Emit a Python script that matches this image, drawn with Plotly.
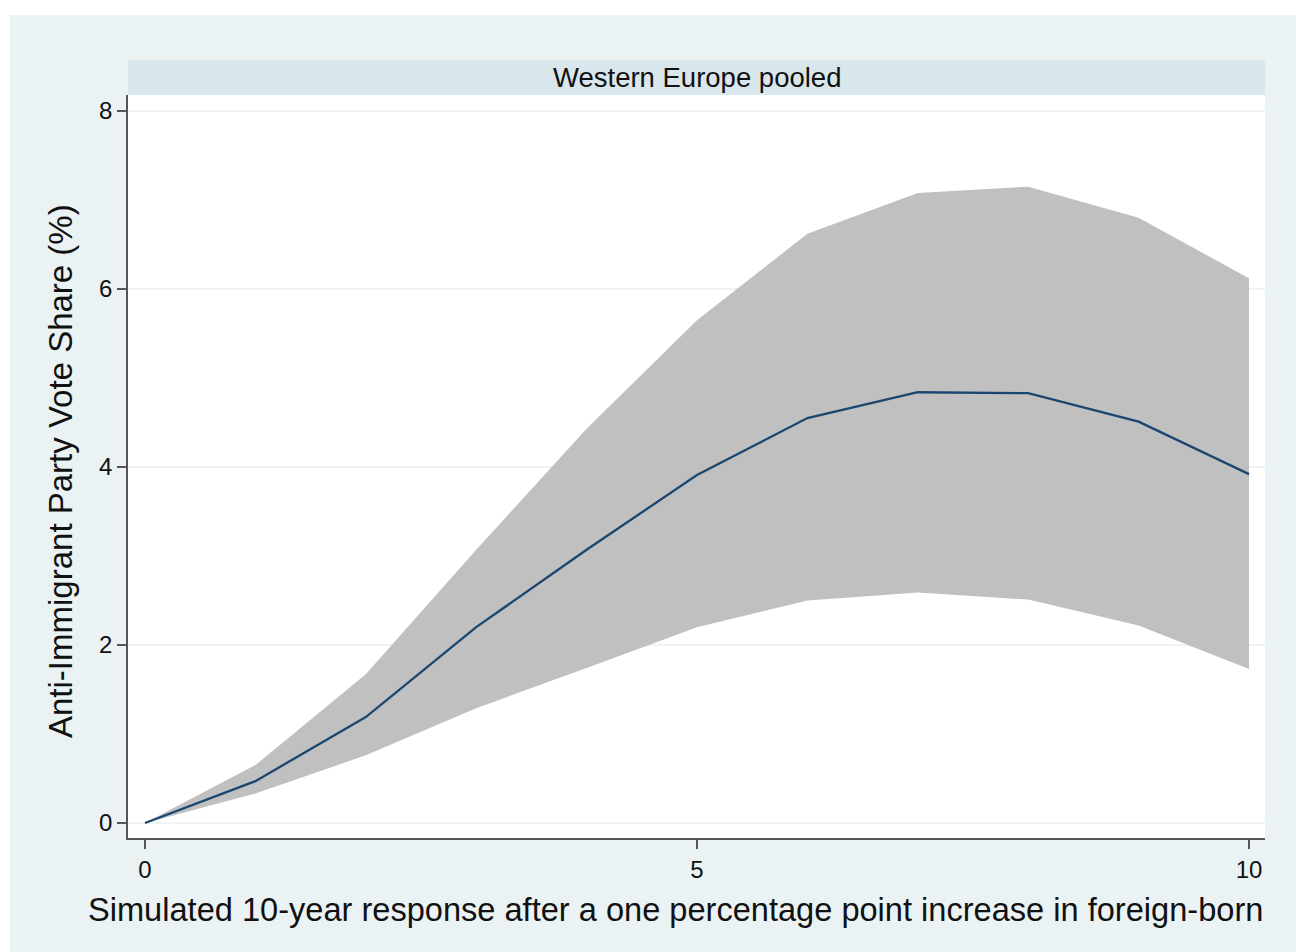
import plotly.graph_objects as go

# Simulated response by year after the shock
years = [0, 1, 2, 3, 4, 5, 6, 7, 8, 9, 10]
mean_share = [0.0, 0.47, 1.19, 2.20, 3.07, 3.91, 4.55, 4.84, 4.83, 4.51, 3.92]
upper_ci = [0.0, 0.65, 1.67, 3.07, 4.43, 5.65, 6.62, 7.08, 7.15, 6.80, 6.12]
lower_ci = [0.0, 0.33, 0.76, 1.29, 1.74, 2.20, 2.50, 2.59, 2.51, 2.22, 1.73]

x_ticks = [0, 5, 10]
y_ticks = [0, 2, 4, 6, 8]

panel_title = "Western Europe pooled"
x_title = "Simulated 10-year response after a one percentage point increase in foreign-born"
y_title = "Anti-Immigrant Party Vote Share (%)"

W, H = 1296, 952
ML, MR, MT, MB = 128, 31, 95, 114
PW, PH = W - ML - MR, H - MT - MB

region_bg = "#eaf2f3"
strip_bg = "#d9e6eb"
band_fill = "#c0c0c0"
line_col = "#1a476f"
axis_col = "#555555"
font_family = "Liberation Sans, Arial, sans-serif"


def px_x(p):
    return (p - ML) / PW


def px_y(p):
    return (H - MB - p) / PH


fig = go.Figure()

fig.add_trace(go.Scatter(
    x=years, y=upper_ci, mode="lines", line=dict(width=0, color=band_fill),
    showlegend=False, hoverinfo="skip"))
fig.add_trace(go.Scatter(
    x=years, y=lower_ci, mode="lines", line=dict(width=0, color=band_fill),
    fill="tonexty", fillcolor=band_fill, showlegend=False, hoverinfo="skip"))
fig.add_trace(go.Scatter(
    x=years, y=mean_share, mode="lines", line=dict(width=2.3, color=line_col),
    showlegend=False))

shapes = [
    # white margin around the graph region
    dict(type="rect", xref="paper", yref="paper", x0=px_x(0), x1=px_x(10),
         y0=px_y(H), y1=px_y(0), fillcolor="white", line=dict(width=0)),
    dict(type="rect", xref="paper", yref="paper", x0=px_x(0), x1=px_x(W),
         y0=px_y(15), y1=px_y(0), fillcolor="white", line=dict(width=0)),
    # panel header strip
    dict(type="rect", xref="paper", yref="paper", x0=0, x1=1,
         y0=1, y1=px_y(60), fillcolor=strip_bg, line=dict(width=0)),
]

annotations = [
    dict(text=panel_title, xref="paper", yref="paper", x=0.5, y=px_y(77.5),
         xanchor="center", yanchor="middle", showarrow=False,
         font=dict(family=font_family, size=27.5, color="#111111")),
    dict(text=x_title, xref="paper", yref="paper", x=px_x(675), y=px_y(909),
         xanchor="center", yanchor="middle", showarrow=False,
         font=dict(family=font_family, size=32.6, color="#111111")),
    dict(text=y_title, xref="paper", yref="paper", x=px_x(60), y=px_y(471),
         xanchor="center", yanchor="middle", showarrow=False, textangle=-90,
         font=dict(family=font_family, size=33, color="#111111")),
]

fig.update_layout(
    width=W, height=H,
    margin=dict(l=ML, r=MR, t=MT, b=MB, pad=0),
    paper_bgcolor=region_bg, plot_bgcolor="white",
    shapes=shapes, annotations=annotations,
    font=dict(family=font_family, color="#111111"),
)

fig.update_xaxes(
    range=[-0.154, 10.145], tickvals=x_ticks, ticktext=[str(v) for v in x_ticks],
    ticks="outside", ticklen=9, tickwidth=1.5, tickcolor=axis_col,
    showline=True, linecolor=axis_col, linewidth=1.5,
    showgrid=False, zeroline=False,
    tickfont=dict(size=24, family=font_family, color="#111111"),
)
fig.update_yaxes(
    range=[-0.169, 8.18], tickvals=y_ticks, ticktext=[str(v) for v in y_ticks],
    ticks="outside", ticklen=9, tickwidth=1.5, tickcolor=axis_col,
    showline=True, linecolor=axis_col, linewidth=1.5,
    showgrid=True, gridcolor="#eef3f4", gridwidth=1.5, zeroline=False,
    tickfont=dict(size=24, family=font_family, color="#111111"),
)

fig.write_html("out.html")
